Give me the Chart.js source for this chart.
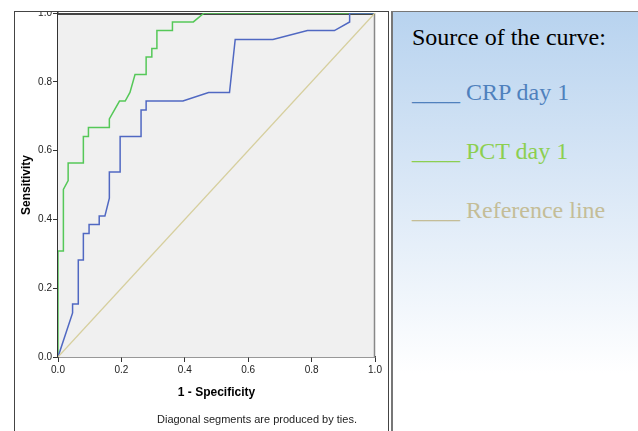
<!DOCTYPE html>
<html>
<head>
<meta charset="utf-8">
<script src="https://cdn.jsdelivr.net/npm/chart.js@4/dist/chart.umd.min.js"></script>
<style>
    body { margin: 0; background: #fff; width: 638px; height: 431px; overflow: hidden; position: relative; }
    #chartBox {
        position: absolute; left: 14px; top: 11px; width: 373px; height: 420px; overflow: hidden;
        border-left: 1px solid #444; border-top: 1px solid #444; border-right: 1px solid #444;
    }
    #chartBox canvas { position: absolute; left: 0; top: -6px; }
    #footnote {
        position: absolute; left: 157px; top: 413px; font: 11px "Liberation Sans", Arial, sans-serif;
        line-height: 13px; color: #222; white-space: nowrap;
    }
    #legendBox {
        position: absolute; left: 391px; top: 11px; width: 247px; height: 420px;
        border-left: 2px solid #777; border-top: 1px solid #777;
        background: linear-gradient(to bottom, #b8d3ef 0%, #d9e7f6 40%, #ffffff 86%);
        font-family: "Liberation Serif", "Times New Roman", serif; font-size: 24px;
    }
    .legendLine { position: absolute; left: 19px; line-height: 28px; white-space: nowrap; }
</style>
</head>
<body>
<div id="chartBox"><canvas id="rocChart" width="373" height="425"></canvas></div>
<div id="footnote">Diagonal segments are produced by ties.</div>
<div id="legendBox">
    <div class="legendLine" style="top: 11px; color: #000;">Source of the curve:</div>
    <div class="legendLine" style="top: 66px; color: #4f81bd;">____ CRP day 1</div>
    <div class="legendLine" style="top: 125px; color: #8ccf50;">____ PCT day 1</div>
    <div class="legendLine" style="top: 184px; color: #c4bd97;">____ Reference line</div>
</div>
<script>
// Values (1 - specificity, sensitivity)
const crpX = [0, 0.046, 0.046, 0.064, 0.064, 0.080, 0.080, 0.098, 0.098, 0.130, 0.130, 0.148, 0.162, 0.162,
              0.196, 0.196, 0.262, 0.262, 0.278, 0.278, 0.394, 0.475, 0.541, 0.559, 0.678, 0.787, 0.872, 0.920, 0.920, 1];
const crpY = [0, 0.128, 0.154, 0.154, 0.282, 0.282, 0.359, 0.359, 0.385, 0.385, 0.410, 0.410, 0.462, 0.538,
              0.538, 0.641, 0.641, 0.718, 0.718, 0.744, 0.744, 0.769, 0.769, 0.923, 0.923, 0.949, 0.949, 0.974, 1, 1];

const pctX = [0, 0, 0.017, 0.017, 0.032, 0.032, 0.080, 0.080, 0.096, 0.096, 0.162, 0.162, 0.194, 0.212,
              0.227, 0.243, 0.278, 0.278, 0.296, 0.296, 0.312, 0.312, 0.361, 0.361, 0.427, 0.461, 1];
const pctY = [0, 0.308, 0.308, 0.487, 0.513, 0.564, 0.564, 0.641, 0.641, 0.667, 0.667, 0.692, 0.744, 0.744,
              0.769, 0.821, 0.821, 0.872, 0.872, 0.897, 0.897, 0.949, 0.949, 0.974, 0.974, 1, 1];

const refX = [0, 1];
const refY = [0, 1];

const tickValues = [0, 0.2, 0.4, 0.6, 0.8, 1.0];

function toPoints(xs, ys) {
    return xs.map((x, i) => ({ x: x, y: ys[i] }));
}

// Grey plot background plus the top and right frame
const plotFrame = {
    id: 'plotFrame',
    beforeDatasetsDraw(chart) {
        const { ctx, chartArea: a } = chart;
        ctx.save();
        ctx.fillStyle = '#f0f0f0';
        ctx.fillRect(a.left, a.top, a.right - a.left, a.bottom - a.top);
        // right edge, light grey
        ctx.strokeStyle = '#888';
        ctx.lineWidth = 1.5;
        ctx.beginPath();
        ctx.moveTo(a.right - 0.5, a.top);
        ctx.lineTo(a.right - 0.5, a.bottom);
        ctx.stroke();
        // top edge, darker
        ctx.strokeStyle = '#444';
        ctx.lineWidth = 2;
        ctx.beginPath();
        ctx.moveTo(a.left, a.top + 1);
        ctx.lineTo(a.right, a.top + 1);
        ctx.stroke();
        ctx.restore();
    }
};

const tickFont = { family: '"Liberation Sans", Arial, sans-serif', size: 10 };
const titleFont = { family: '"Liberation Sans", Arial, sans-serif', size: 12, weight: 'bold' };

const ctx = document.getElementById('rocChart').getContext('2d');
new Chart(ctx, {
    type: 'scatter',
    data: {
        datasets: [
            {
                label: 'Reference line',
                data: toPoints(refX, refY),
                showLine: true,
                borderColor: '#d6cf9e',
                borderWidth: 1.3,
                pointRadius: 0
            },
            {
                label: 'CRP day 1',
                data: toPoints(crpX, crpY),
                showLine: true,
                borderColor: '#5068c2',
                borderWidth: 1.5,
                pointRadius: 0
            },
            {
                label: 'PCT day 1',
                data: toPoints(pctX, pctY),
                showLine: true,
                borderColor: '#55c858',
                borderWidth: 1.5,
                pointRadius: 0
            }
        ]
    },
    options: {
        responsive: false,
        animation: false,
        layout: { padding: { top: 1, right: 13, left: 0, bottom: 0 } },
        plugins: { legend: { display: false }, tooltip: { enabled: false } },
        scales: {
            x: {
                type: 'linear',
                min: 0,
                max: 1,
                afterFit: scale => { scale.height = 74; },
                afterBuildTicks: scale => { scale.ticks = tickValues.map(v => ({ value: v })); },
                ticks: {
                    callback: v => v.toFixed(1),
                    font: tickFont,
                    color: '#222',
                    padding: 2,
                    maxRotation: 0
                },
                grid: { drawOnChartArea: false, tickLength: 5, color: '#333' },
                border: { color: '#333', width: 1.5 },
                title: { display: true, text: '1 - Specificity', font: titleFont, color: '#000', padding: { top: 31, bottom: 31 } }
            },
            y: {
                type: 'linear',
                min: 0,
                max: 1,
                afterFit: scale => { scale.width = 43; },
                afterBuildTicks: scale => { scale.ticks = tickValues.map(v => ({ value: v })); },
                ticks: {
                    callback: v => v.toFixed(1),
                    font: tickFont,
                    color: '#222',
                    padding: 1
                },
                grid: { drawOnChartArea: false, tickLength: 5, color: '#333' },
                border: { color: '#333', width: 1.5 },
                title: { display: true, text: 'Sensitivity', font: titleFont, color: '#000', padding: { top: 4, bottom: 4 } }
            }
        }
    },
    plugins: [plotFrame]
});
</script>
</body>
</html>
